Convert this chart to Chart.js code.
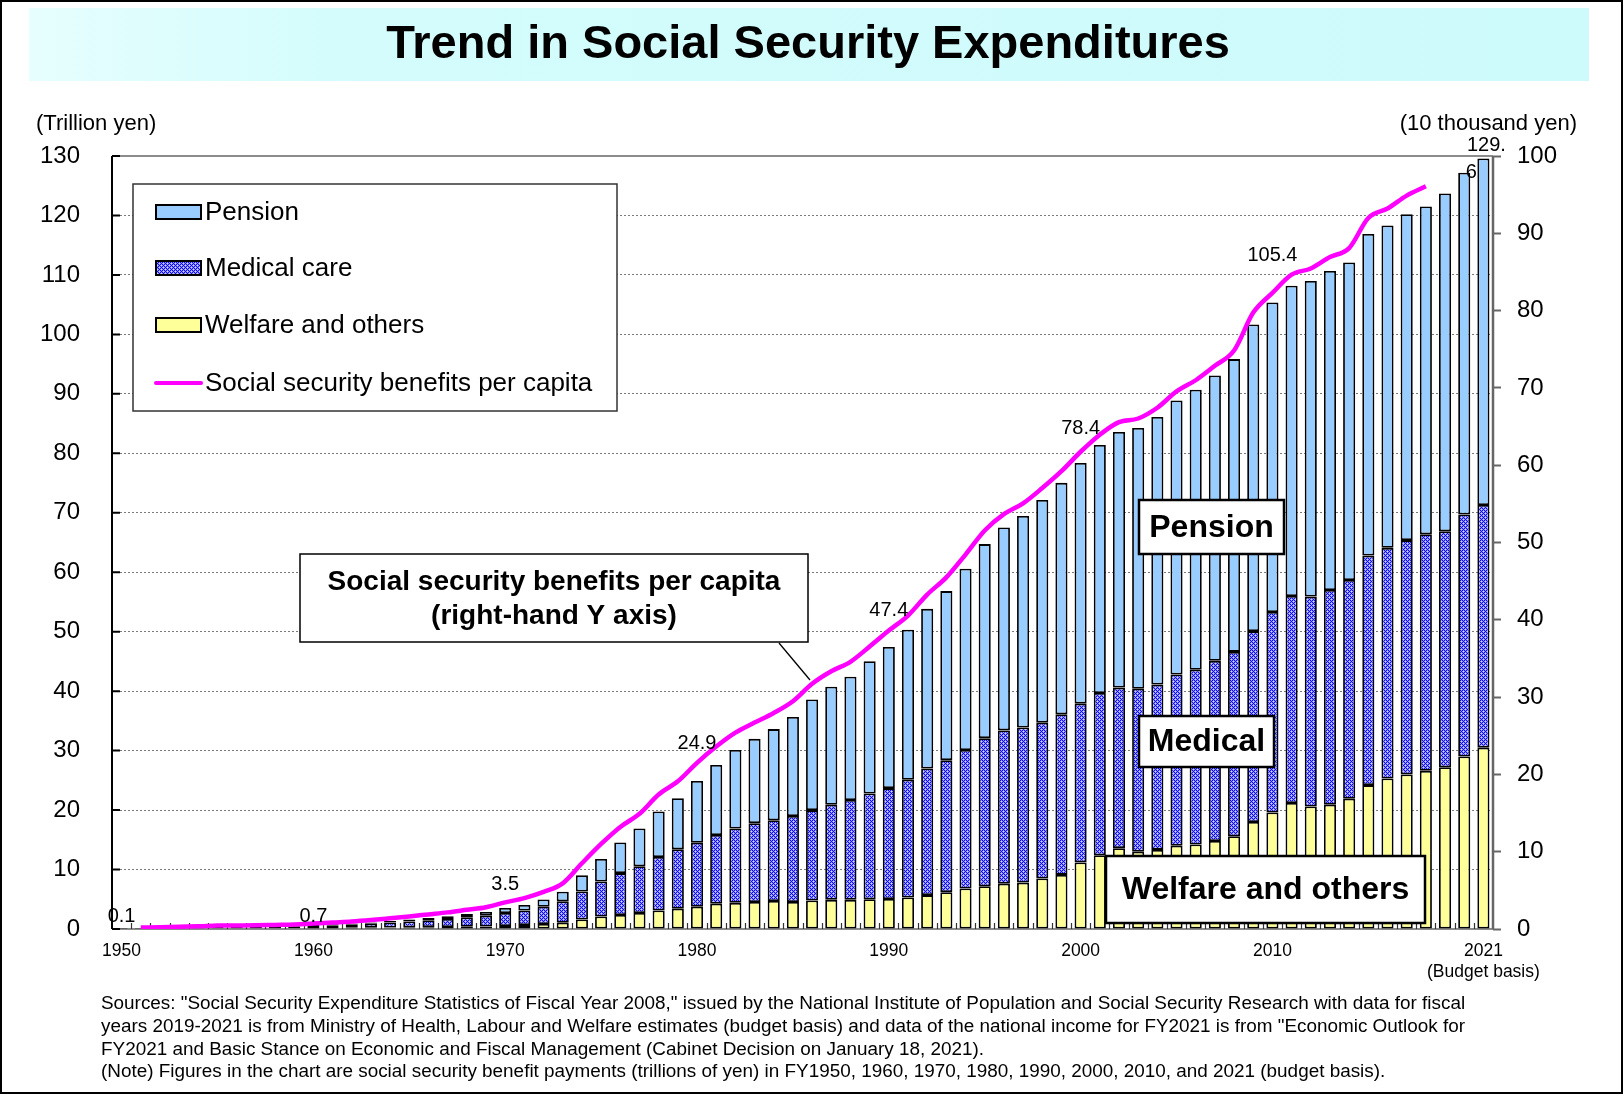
<!DOCTYPE html>
<html>
<head>
<meta charset="utf-8">
<title>Trend in Social Security Expenditures</title>
<script src="https://cdn.jsdelivr.net/npm/chart.js@4.4.1/dist/chart.umd.min.js"></script>
<style>
  html, body { margin: 0; padding: 0; background: #fff; }
  #wrap { width: 1624px; height: 1096px; }
</style>
</head>
<body>
<div id="wrap"><canvas id="ssChart" width="1624" height="1096"></canvas></div>
<script>
// ---- data (trillion yen / 10 thousand yen) ----
const years = [];
for (let y = 1950; y <= 2021; y++) years.push(String(y));

const welfare = [
  0.06, 0.07, 0.08, 0.10, 0.11, 0.14, 0.13, 0.13, 0.14, 0.14,
  0.16, 0.18, 0.20, 0.22, 0.25, 0.28, 0.31, 0.34, 0.38, 0.42,
  0.50, 0.67, 0.84, 1.06, 1.60, 2.10, 2.35, 2.70, 3.10, 3.40,
  3.75, 4.25, 4.40, 4.55, 4.70, 4.55, 4.80, 4.90, 4.90, 5.00,
  5.05, 5.30, 5.70, 6.20, 6.80, 7.20, 7.60, 7.80, 8.50, 9.10,
  11.20, 12.40, 13.60, 13.00, 13.30, 14.00, 14.20, 14.80, 15.60, 18.00,
  19.60, 21.20, 20.60, 20.90, 21.90, 24.20, 25.30, 26.00, 26.60, 27.20,
  29.00, 30.50
];
const medical = [
  0.06, 0.08, 0.10, 0.14, 0.17, 0.21, 0.23, 0.25, 0.29, 0.32,
  0.36, 0.45, 0.53, 0.67, 0.84, 1.00, 1.18, 1.36, 1.58, 1.80,
  2.20, 2.45, 2.91, 3.59, 4.70, 5.90, 7.05, 7.85, 9.00, 10.00,
  10.75, 11.55, 12.50, 13.25, 13.60, 14.45, 15.20, 16.00, 16.80, 17.80,
  18.65, 19.80, 21.30, 22.20, 23.30, 24.90, 25.80, 26.10, 26.20, 27.00,
  26.70, 27.30, 27.00, 27.40, 27.80, 28.80, 29.40, 30.30, 31.00, 32.10,
  33.70, 34.80, 35.30, 36.10, 36.80, 38.60, 38.80, 39.40, 39.80, 39.70,
  40.70, 40.80
];
const pension = [
  0.01, 0.01, 0.01, 0.02, 0.03, 0.04, 0.05, 0.06, 0.07, 0.08,
  0.14, 0.16, 0.19, 0.22, 0.26, 0.32, 0.38, 0.46, 0.55, 0.66,
  0.83, 0.91, 1.23, 1.61, 2.72, 3.77, 5.16, 6.34, 7.68, 8.58,
  10.40, 11.78, 13.20, 14.18, 15.32, 16.67, 18.59, 19.86, 20.73, 22.22,
  23.72, 25.22, 26.84, 28.43, 30.48, 32.63, 34.14, 35.57, 37.44, 38.93,
  40.46, 41.70, 42.98, 43.87, 45.00, 46.07, 47.10, 47.99, 49.24, 51.58,
  52.07, 52.18, 53.08, 53.67, 53.40, 54.10, 54.20, 54.80, 55.10, 56.80,
  57.50, 58.30
];
// per capita benefits, right axis (FY1951-2018)
const perCapita = [
  null, 0.19, 0.23, 0.30, 0.35, 0.44, 0.46, 0.48, 0.53, 0.58,
  0.70, 0.84, 0.97, 1.16, 1.39, 1.63, 1.89, 2.15, 2.48, 2.81,
  3.45, 4.00, 4.80, 5.90, 8.50, 11.00, 13.20, 14.90, 17.40, 19.10,
  21.50, 23.60, 25.40, 26.70, 27.95, 29.47, 31.72, 33.34, 34.57, 36.54,
  38.60, 40.55, 43.26, 45.49, 48.44, 51.55, 53.66, 55.06, 57.04, 59.22,
  61.74, 63.95, 65.58, 66.04, 67.43, 69.55, 70.99, 72.86, 74.84, 79.74,
  82.29, 84.65, 85.45, 86.92, 88.09, 91.98, 93.21, 94.88, 96.09, null,
  null, null
];

const xTickYears = ['1950', '1960', '1970', '1980', '1990', '2000', '2010', '2021'];
const labelYears = ['1950', '1960', '1970', '1980', '1990', '2000', '2010', '2021'];
const labelTexts = ['0.1', '0.7', '3.5', '24.9', '47.4', '78.4', '105.4', '129.6'];

const FONT = '"Liberation Sans", Arial, sans-serif';
Chart.defaults.font.family = FONT;
Chart.defaults.color = '#000';

// blue dotted fill used for the medical care series
function makeMedicalPattern() {
  const c = document.createElement('canvas');
  c.width = 4; c.height = 4;
  const g = c.getContext('2d');
  g.fillStyle = '#9292ff';
  g.fillRect(0, 0, 4, 4);
  g.fillStyle = '#0808ff';
  for (let y = 0; y < 4; y++) {
    for (let x = 0; x < 4; x++) {
      if ((x + y) % 2 === 0) g.fillRect(x, y, 1, 1);
    }
  }
  g.fillStyle = '#cfcfff';
  g.fillRect(1, 1, 1, 1);
  g.fillRect(3, 3, 1, 1);
  return g.createPattern(c, 'repeat');
}
const medicalFill = makeMedicalPattern();

const NOTES = [
  'Sources: "Social Security Expenditure Statistics of Fiscal Year 2008," issued by the National Institute of Population and Social Security Research with data for fiscal',
  'years 2019-2021 is from Ministry of Health, Labour and Welfare estimates (budget basis) and data of the national income for FY2021 is from "Economic Outlook for',
  'FY2021 and Basic Stance on Economic and Fiscal Management (Cabinet Decision on January 18, 2021).',
  '(Note) Figures in the chart are social security benefit payments (trillions of yen) in FY1950, 1960, 1970, 1980, 1990, 2000, 2010, and 2021 (budget basis).'
];

function boxWithText(ctx, x1, y1, x2, y2, lines, font, lw, lineGap) {
  ctx.fillStyle = '#fff';
  ctx.fillRect(x1, y1, x2 - x1, y2 - y1);
  ctx.strokeStyle = '#000';
  ctx.lineWidth = lw;
  ctx.strokeRect(x1, y1, x2 - x1, y2 - y1);
  ctx.fillStyle = '#000';
  ctx.font = font;
  ctx.textAlign = 'center';
  ctx.textBaseline = 'middle';
  const cx = (x1 + x2) / 2;
  const cy = (y1 + y2) / 2 + 1;
  const gap = lineGap || 0;
  lines.forEach((t, i) => ctx.fillText(t, cx, cy + (i - (lines.length - 1) / 2) * gap));
}

const decor = {
  id: 'decor',
  beforeDraw(chart) {
    const ctx = chart.ctx;
    ctx.save();
    ctx.fillStyle = '#fff';
    ctx.fillRect(0, 0, chart.width, chart.height);

    // title band
    const g = ctx.createLinearGradient(29, 0, 1589, 0);
    g.addColorStop(0, '#e6fefe');
    g.addColorStop(0.2, '#d4fcfc');
    g.addColorStop(1, '#cdfafb');
    ctx.fillStyle = g;
    ctx.fillRect(29, 8, 1560, 73);
    ctx.fillStyle = '#000';
    ctx.font = 'bold 47px ' + FONT;
    ctx.textAlign = 'center';
    ctx.textBaseline = 'middle';
    ctx.fillText('Trend in Social Security Expenditures', 808, 45);

    // axis unit titles
    ctx.font = '22px ' + FONT;
    ctx.textAlign = 'left';
    ctx.fillText('(Trillion yen)', 36, 124);
    ctx.textAlign = 'right';
    ctx.fillText('(10 thousand yen)', 1577, 124);

    // source notes
    ctx.font = '18.9px ' + FONT;
    ctx.textAlign = 'left';
    NOTES.forEach((t, i) => ctx.fillText(t, 101, 1004 + i * 22.7));
    ctx.restore();
  },
  beforeDatasetsDraw(chart) {
    const ctx = chart.ctx;
    const a = chart.chartArea;
    const ys = chart.scales.y;
    ctx.save();
    // plot frame
    ctx.strokeStyle = '#8c8c8c';
    ctx.lineWidth = 2;
    ctx.beginPath();
    ctx.moveTo(a.left, a.top); ctx.lineTo(a.right, a.top);
    ctx.moveTo(a.left, a.bottom); ctx.lineTo(a.right, a.bottom);
    ctx.stroke();
    ctx.strokeStyle = '#666';
    ctx.lineWidth = 2.5;
    ctx.beginPath();
    ctx.moveTo(a.right, a.top); ctx.lineTo(a.right, a.bottom);
    ctx.stroke();
    // inner ticks between categories
    ctx.strokeStyle = '#333';
    ctx.lineWidth = 1.2;
    const w = (a.right - a.left) / years.length;
    ctx.beginPath();
    for (let i = 1; i < years.length; i++) {
      const x = Math.round(a.left + i * w) + 0.5;
      ctx.moveTo(x, a.bottom); ctx.lineTo(x, a.bottom - 6);
    }
    ctx.stroke();
    // left axis + inner ticks
    ctx.strokeStyle = '#000';
    ctx.lineWidth = 2;
    ctx.beginPath();
    ctx.moveTo(a.left, a.top); ctx.lineTo(a.left, a.bottom);
    for (let v = 0; v <= 130; v += 10) {
      const y = ys.getPixelForValue(v);
      ctx.moveTo(a.left, y); ctx.lineTo(a.left + 8, y);
    }
    ctx.stroke();
    ctx.restore();
  },
  afterDatasetsDraw(chart) {
    const ctx = chart.ctx;
    const xs = chart.scales.x, ys = chart.scales.y, y2 = chart.scales.y2;
    ctx.save();

    // total labels
    const lift = { '1950': 12, '1960': 7, '1970': 18, '1980': 19, '1990': 20, '2000': 23, '2010': 37 };
    ctx.font = '20px ' + FONT;
    ctx.fillStyle = '#000';
    ctx.textAlign = 'center';
    ctx.textBaseline = 'middle';
    labelYears.forEach((yr, k) => {
      const i = years.indexOf(yr);
      const x = xs.getPixelForValue(i);
      const top = ys.getPixelForValue(welfare[i] + medical[i] + pension[i]);
      let anchor = top;
      if (perCapita[i] != null) anchor = Math.min(anchor, y2.getPixelForValue(perCapita[i]));
      const t = labelTexts[k];
      if (yr === '2021') {
        ctx.fillText(t.slice(0, 4), x + 3, top - 13);
        ctx.fillText(t.slice(4), x - 12, top + 14);
      } else {
        ctx.fillText(t, x, anchor - lift[yr]);
      }
    });

    // callout for the per-capita line
    ctx.strokeStyle = '#000';
    ctx.lineWidth = 1.3;
    ctx.beginPath();
    ctx.moveTo(779, 643); ctx.lineTo(810, 680);
    ctx.stroke();
    boxWithText(ctx, 300, 554, 808, 642,
      ['Social security benefits per capita', '(right-hand Y axis)'], 'bold 28px ' + FONT, 1.5, 34);

    // series name boxes
    boxWithText(ctx, 1139, 500, 1284, 554, ['Pension'], 'bold 32px ' + FONT, 2.5);
    boxWithText(ctx, 1139, 716, 1274, 767, ['Medical'], 'bold 32px ' + FONT, 2.5);
    boxWithText(ctx, 1106, 856, 1425, 923, ['Welfare and others'], 'bold 32px ' + FONT, 2.5);

    // legend
    ctx.fillStyle = '#fff';
    ctx.fillRect(133, 184, 484, 227);
    ctx.strokeStyle = '#333';
    ctx.lineWidth = 1.5;
    ctx.strokeRect(133, 184, 484, 227);
    const ds = chart.data.datasets;
    const items = [ds[2], ds[1], ds[0], ds[3]];
    const rowY = [212, 268, 325, 383];
    ctx.font = '26px ' + FONT;
    ctx.textAlign = 'left';
    items.forEach((d, i) => {
      const y = rowY[i];
      if (d.type === 'line') {
        ctx.strokeStyle = d.borderColor;
        ctx.lineWidth = 4;
        ctx.lineCap = 'round';
        ctx.beginPath();
        ctx.moveTo(156, y); ctx.lineTo(201, y);
        ctx.stroke();
      } else {
        ctx.fillStyle = d.backgroundColor;
        ctx.fillRect(156, y - 7, 45, 14);
        ctx.strokeStyle = '#000';
        ctx.lineWidth = 2;
        ctx.strokeRect(156, y - 7, 45, 14);
      }
      ctx.fillStyle = '#000';
      ctx.fillText(d.label, 205, y + 1);
    });
    ctx.restore();
  },
  afterDraw(chart) {
    const ctx = chart.ctx;
    ctx.save();
    ctx.strokeStyle = '#000';
    ctx.lineWidth = 2;
    ctx.strokeRect(1, 1, 1621, 1092);
    ctx.restore();
  }
};

const barCommon = {
  borderColor: '#000',
  borderWidth: 1.8,
  borderSkipped: false,
  barPercentage: 0.63,
  categoryPercentage: 1,
  order: 1
};

new Chart(document.getElementById('ssChart'), {
  type: 'bar',
  data: {
    labels: years,
    datasets: [
      Object.assign({ label: 'Welfare and others', data: welfare, backgroundColor: '#ffff99' }, barCommon),
      Object.assign({ label: 'Medical care', data: medical, backgroundColor: medicalFill }, barCommon),
      Object.assign({ label: 'Pension', data: pension, backgroundColor: '#99ccff' }, barCommon),
      {
        type: 'line',
        label: 'Social security benefits per capita',
        data: perCapita,
        yAxisID: 'y2',
        borderColor: '#ff00ff',
        borderWidth: 4.5,
        pointRadius: 0,
        fill: false,
        tension: 0.4,
        cubicInterpolationMode: 'monotone',
        spanGaps: false,
        order: 0
      }
    ]
  },
  options: {
    responsive: false,
    animation: false,
    devicePixelRatio: 1,
    layout: { padding: { top: 156, left: 0, right: 0, bottom: 0 } },
    plugins: {
      legend: { display: false },
      tooltip: { enabled: false },
      title: { display: false }
    },
    scales: {
      x: {
        stacked: true,
        offset: true,
        grid: { display: false, drawTicks: false },
        border: { display: false },
        ticks: {
          autoSkip: false,
          maxRotation: 0,
          padding: 12,
          font: { size: 17.5 },
          color: '#000',
          callback: function (val) {
            const lab = this.getLabelForValue(val);
            if (!xTickYears.includes(lab)) return '';
            return lab === '2021' ? ['2021', '(Budget basis)'] : lab;
          }
        },
        afterFit: s => { s.height = 167; }
      },
      y: {
        stacked: true,
        min: 0,
        max: 130,
        ticks: { stepSize: 10, padding: 32, font: { size: 24 }, color: '#000' },
        grid: { color: '#7a7a7a', lineWidth: 1, drawTicks: false },
        border: { display: false, dash: [2, 2] },
        afterFit: s => { s.width = 112; }
      },
      y2: {
        position: 'right',
        min: 0,
        max: 100,
        ticks: { stepSize: 10, padding: 16, font: { size: 24 }, color: '#000' },
        grid: { drawOnChartArea: false, drawTicks: true, tickLength: 8, tickColor: '#666', tickWidth: 2 },
        border: { display: false },
        afterFit: s => { s.width = 131; }
      }
    }
  },
  plugins: [decor]
});
</script>
</body>
</html>
